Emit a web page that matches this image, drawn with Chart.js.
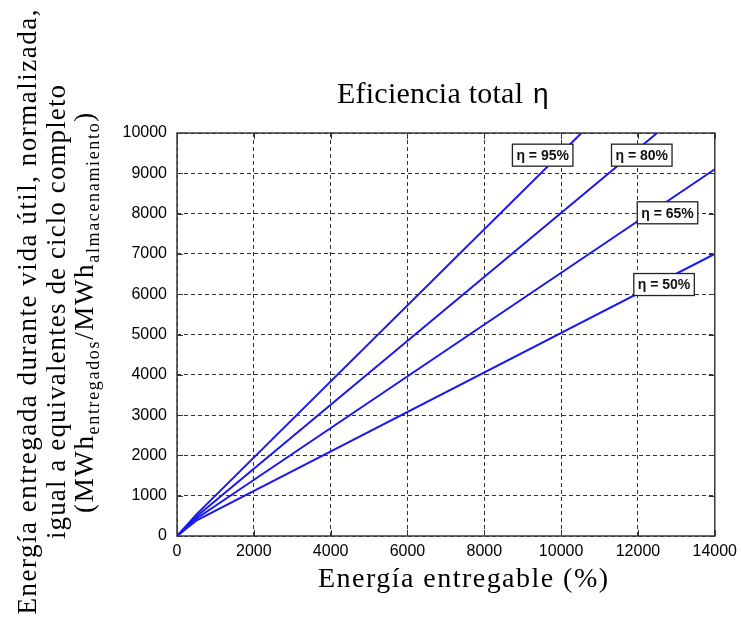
<!DOCTYPE html>
<html>
<head>
<meta charset="utf-8">
<script src="https://cdn.jsdelivr.net/npm/chart.js@4/dist/chart.umd.min.js"></script>
<style>
  html, body { margin: 0; padding: 0; background: #fff; }
  #wrap { width: 743px; height: 619px; }
</style>
</head>
<body>
<div id="wrap"><canvas id="c" width="743" height="619"></canvas></div>
<script>
// delivered energy over lifetime vs deliverable energy, one line per efficiency
const efficiencies = ["95%", "80%", "65%", "50%"];
const xPoints = {
  "95%": [0, 500, 10530],
  "80%": [0, 500, 12500],
  "65%": [0, 500, 14000],
  "50%": [0, 500, 14000],
};
const yPoints = {
  "95%": [0, 530, 10000],
  "80%": [0, 480, 10000],
  "65%": [0, 430, 9100],
  "50%": [0, 380, 7000],
};
// where each η tag sits, in data units
const tagX = [9520, 12100, 12770, 12680];
const tagY = [9450, 9450, 8020, 6240];

const xTicks = [0, 2000, 4000, 6000, 8000, 10000, 12000, 14000];
const yTicks = [0, 1000, 2000, 3000, 4000, 5000, 6000, 7000, 8000, 9000, 10000];

const SERIF = '"Liberation Serif", "DejaVu Serif", serif';
const SANS = '"Liberation Sans", Arial, sans-serif';
const BLUE = "#1a1aee";

const datasets = efficiencies.map((k) => ({
  label: "η = " + k,
  data: xPoints[k].map((x, i) => ({ x, y: yPoints[k][i] })),
  borderColor: BLUE,
  borderWidth: 2,
  pointRadius: 0,
  tension: 0,
  fill: false,
}));

// draw text with letter spacing nudged so it spans a given width
function spreadText(ctx, txt, x, y, width) {
  ctx.letterSpacing = "0px";
  const n = [...txt].length;
  const w = ctx.measureText(txt).width;
  const ls = (width - w) / (n - 1);
  ctx.letterSpacing = ls + "px";
  ctx.fillText(txt, x + (ctx.textAlign === "center" ? ls / 2 : 0), y);
  ctx.letterSpacing = "0px";
}

// frame, inner ticks, η tags and the serif titles
const decorations = {
  id: "decorations",
  beforeDatasetsDraw(chart) {
    const { ctx, chartArea: a, scales } = chart;
    ctx.save();
    ctx.strokeStyle = "#333";
    ctx.lineWidth = 1;
    scales.x.ticks.forEach((t) => {
      const px = Math.round(scales.x.getPixelForValue(t.value)) + 0.5;
      ctx.beginPath();
      ctx.moveTo(px, a.bottom); ctx.lineTo(px, a.bottom - 6);
      ctx.moveTo(px, a.top); ctx.lineTo(px, a.top + 6);
      ctx.stroke();
    });
    scales.y.ticks.forEach((t) => {
      const py = Math.round(scales.y.getPixelForValue(t.value)) + 0.5;
      ctx.beginPath();
      ctx.moveTo(a.left, py); ctx.lineTo(a.left + 6, py);
      ctx.moveTo(a.right, py); ctx.lineTo(a.right - 6, py);
      ctx.stroke();
    });
    ctx.restore();
  },
  afterDatasetsDraw(chart) {
    const { ctx, chartArea: a, scales } = chart;
    ctx.save();
    ctx.strokeStyle = "#3a3a3a";
    ctx.lineWidth = 1.5;
    ctx.strokeRect(a.left, a.top, a.right - a.left, a.bottom - a.top);

    ctx.font = "bold 14px " + SANS;
    ctx.textAlign = "center";
    ctx.textBaseline = "middle";
    efficiencies.forEach((k, i) => {
      const px = scales.x.getPixelForValue(tagX[i]);
      const py = scales.y.getPixelForValue(tagY[i]);
      const txt = "η = " + k;
      const w = ctx.measureText(txt).width + 8;
      const h = 22;
      ctx.fillStyle = "#fff";
      ctx.fillRect(px - w / 2, py - h / 2, w, h);
      ctx.strokeStyle = "#222";
      ctx.lineWidth = 1.3;
      ctx.strokeRect(px - w / 2, py - h / 2, w, h);
      ctx.fillStyle = "#111";
      ctx.fillText(txt, px, py + 1);
    });
    ctx.restore();
  },
  afterDraw(chart) {
    const { ctx } = chart;
    ctx.save();
    ctx.fillStyle = "#000";
    ctx.textBaseline = "alphabetic";

    // title: serif words followed by a sans η
    ctx.font = "30px " + SERIF;
    ctx.textAlign = "left";
    spreadText(ctx, "Eficiencia total", 337, 103, 186);
    ctx.font = "28px " + SANS;
    ctx.fillText("η", 533, 103);

    // x axis title
    ctx.font = "28px " + SERIF;
    ctx.textAlign = "center";
    spreadText(ctx, "Energía entregable (%)", 463, 587, 290);

    // y axis title, rotated, three lines
    ctx.translate(0, 312);
    ctx.rotate(-Math.PI / 2);
    ctx.textAlign = "center";
    ctx.font = "27px " + SERIF;
    spreadText(ctx, "Energía entregada durante vida útil, normalizada,", 0, 36, 605);
    spreadText(ctx, "igual a equivalentes de ciclo completo", 0, 65, 454);

    const parts = [
      ["(MWh", false], ["entregados", true], ["/MWh", false], ["almacenamiento", true], [")", false],
    ];
    const fontFor = (sub) => (sub ? "18px " : "27px ") + SERIF;
    let total = 0;
    parts.forEach(([s, sub]) => { ctx.font = fontFor(sub); total += ctx.measureText(s).width; });
    const gap = (397 - total) / 30;
    ctx.letterSpacing = gap + "px";
    total = 0;
    parts.forEach(([s, sub]) => { ctx.font = fontFor(sub); total += ctx.measureText(s).width; });
    let cx = -total / 2;
    ctx.textAlign = "left";
    parts.forEach(([s, sub]) => {
      ctx.font = fontFor(sub);
      ctx.fillText(s, cx, sub ? 99 : 93);
      cx += ctx.measureText(s).width;
    });
    ctx.restore();
  },
};

const gridOpts = { color: "#333", lineWidth: 1, drawTicks: false, borderDash: [4, 3] };

new Chart(document.getElementById("c"), {
  type: "line",
  data: { datasets },
  options: {
    responsive: false,
    animation: false,
    layout: { padding: { top: 133, right: 26, bottom: 0, left: 0 } },
    plugins: { legend: { display: false }, title: { display: false }, tooltip: { enabled: false } },
    scales: {
      x: {
        type: "linear",
        min: 0,
        max: 14000,
        afterBuildTicks: (s) => { s.ticks = xTicks.map((v) => ({ value: v })); },
        afterFit: (s) => { s.height = 83; },
        grid: gridOpts,
        border: { display: false, dash: [4, 3] },
        ticks: { color: "#000", font: { family: SANS, size: 16 }, padding: 6, maxRotation: 0, callback: (v) => String(v) },
      },
      y: {
        type: "linear",
        min: 0,
        max: 10000,
        afterBuildTicks: (s) => { s.ticks = yTicks.map((v) => ({ value: v })); },
        afterFit: (s) => { s.width = 177; },
        grid: gridOpts,
        border: { display: false, dash: [4, 3] },
        ticks: { color: "#000", font: { family: SANS, size: 16 }, padding: 10, callback: (v) => String(v) },
      },
    },
  },
  plugins: [decorations],
});
</script>
</body>
</html>
